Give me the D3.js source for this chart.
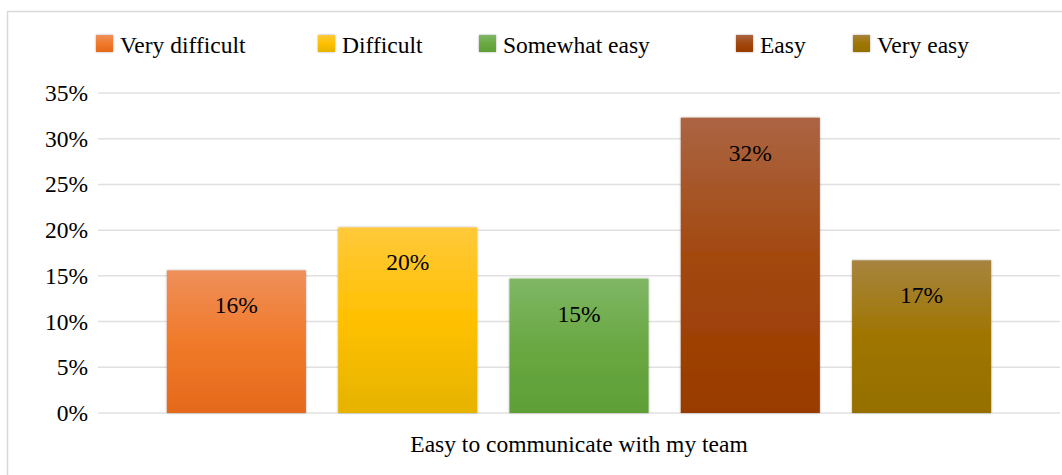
<!DOCTYPE html>
<html>
<head>
<meta charset="utf-8">
<script src="https://cdn.jsdelivr.net/npm/d3@7"></script>
<style>
  html, body { margin: 0; padding: 0; background: #fff; }
  svg { display: block; font-family: "Liberation Serif", "Times New Roman", serif; }
</style>
</head>
<body>
<svg id="chart" width="1062" height="475"></svg>
<script>
// Survey answers for one question, one bar per answer
const categories = ["Easy to communicate with my team"];
const seriesNames = ["Very difficult", "Difficult", "Somewhat easy", "Easy", "Very easy"];
const seriesValues = [0.156, 0.203, 0.147, 0.323, 0.167];
const yTicks = [0, 0.05, 0.10, 0.15, 0.20, 0.25, 0.30, 0.35];

// Gradient stops per series: top, middle, bottom
const seriesColors = [
  ["#ef8f5a", "#f07a2a", "#e5691b"],
  ["#ffc93a", "#ffc000", "#e6b300"],
  ["#7fb765", "#6aa843", "#5e9f36"],
  ["#ab6443", "#a2470c", "#993b00"],
  ["#a7843f", "#9f7500", "#957000"]
];

const W = 1062, H = 475;
const FS = 23.5;
const margin = { left: 98, right: 2, top: 93, bottom: 62 };
const plotBottom = H - margin.bottom;

const svg = d3.select("#chart");
const defs = svg.append("defs");

// soft shadow round the bars and legend keys
const shadow = defs.append("filter").attr("id", "soft")
  .attr("x", "-10%").attr("y", "-10%").attr("width", "120%").attr("height", "120%");
shadow.append("feGaussianBlur").attr("in", "SourceAlpha").attr("stdDeviation", 1.2).attr("result", "b");
shadow.append("feComponentTransfer").attr("in", "b").attr("result", "s")
  .append("feFuncA").attr("type", "linear").attr("slope", 0.35);
const merge = shadow.append("feMerge");
merge.append("feMergeNode").attr("in", "s");
merge.append("feMergeNode").attr("in", "SourceGraphic");

seriesColors.forEach((c, i) => {
  const g = defs.append("linearGradient").attr("id", "grad" + i)
    .attr("x1", 0).attr("y1", 0).attr("x2", 0).attr("y2", 1);
  g.append("stop").attr("offset", "0%").attr("stop-color", c[0]);
  g.append("stop").attr("offset", "50%").attr("stop-color", c[1]);
  g.append("stop").attr("offset", "100%").attr("stop-color", c[2]);
});

// outer frame
svg.append("rect")
  .attr("x", 7.5).attr("y", 11.5).attr("width", W + 20).attr("height", H + 20)
  .attr("fill", "none").attr("stroke", "#d9d9d9").attr("stroke-width", 1.5);

const y = d3.scaleLinear().domain([0, 0.35]).range([plotBottom, margin.top]);
const x0 = d3.scaleBand().domain(categories).range([margin.left, W - margin.right]).padding(0.058);
const x1 = d3.scaleBand().domain(seriesNames).range([0, x0.bandwidth()])
  .paddingInner(0.188).paddingOuter(0.094);

// gridlines
svg.append("g").selectAll("line").data(yTicks).join("line")
  .attr("x1", margin.left).attr("x2", W - margin.right)
  .attr("y1", d => y(d)).attr("y2", d => y(d))
  .attr("stroke", "#e0e0e0").attr("stroke-width", 1.5);

// y axis labels
const yAxis = d3.axisLeft(y).tickValues(yTicks).tickFormat(d3.format(".0%")).tickSize(0).tickPadding(10);
const ya = svg.append("g").attr("transform", `translate(${margin.left},0)`).call(yAxis);
ya.select(".domain").remove();
ya.selectAll("text").attr("font-size", FS).attr("fill", "#000")
  .attr("font-family", "Liberation Serif, Times New Roman, serif");

// x axis category label
const xAxis = d3.axisBottom(x0).tickSize(0).tickPadding(22);
const xa = svg.append("g").attr("transform", `translate(0,${plotBottom})`).call(xAxis);
xa.select(".domain").remove();
xa.selectAll("text").attr("font-size", FS).attr("fill", "#000")
  .attr("font-family", "Liberation Serif, Times New Roman, serif");

// bars
const rows = seriesNames.map((name, i) => ({ name, value: seriesValues[i], i, cat: categories[0] }));
const bars = svg.append("g");
bars.selectAll("rect").data(rows).join("rect")
  .attr("x", d => x0(d.cat) + x1(d.name))
  .attr("y", d => y(d.value))
  .attr("width", x1.bandwidth())
  .attr("height", d => plotBottom - y(d.value))
  .attr("fill", d => `url(#grad${d.i})`)
  .attr("filter", "url(#soft)");

// value labels inside the top of each bar
bars.selectAll("text").data(rows).join("text")
  .attr("x", d => x0(d.cat) + x1(d.name) + x1.bandwidth() / 2)
  .attr("y", d => y(d.value) + 43)
  .attr("text-anchor", "middle")
  .attr("font-size", FS).attr("fill", "#000")
  .text(d => d3.format(".0%")(d.value));

// legend
const legendX = [96, 318, 479, 736, 853];
const lg = svg.append("g").selectAll("g").data(seriesNames).join("g")
  .attr("transform", (d, i) => `translate(${legendX[i]},35)`);
lg.append("rect").attr("width", 17).attr("height", 17)
  .attr("fill", (d, i) => `url(#grad${i})`).attr("filter", "url(#soft)");
lg.append("text").attr("x", 24).attr("y", 18)
  .attr("font-size", FS).attr("fill", "#000")
  .text(d => d);
</script>
</body>
</html>
